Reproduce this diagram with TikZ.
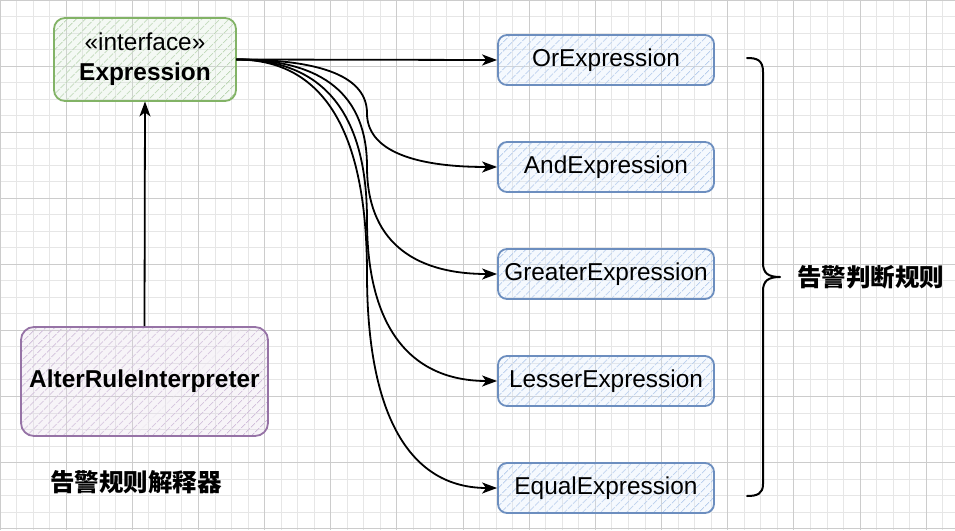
\documentclass[tikz,border=0pt]{standalone}
\usepackage{fontspec}
\setmainfont{Liberation Sans}
\newfontfamily\cjk{Noto Sans CJK SC}
\usetikzlibrary{calc,arrows.meta,patterns.meta}
\definecolor{gminor}{HTML}{E6E6E6}
\definecolor{gmajor}{HTML}{CCCCCC}
\definecolor{blueS}{HTML}{6C8EBF}
\definecolor{blueF}{HTML}{DAE8FC}
\definecolor{blueH}{HTML}{B4CBEC}
\definecolor{greenS}{HTML}{82B366}
\definecolor{greenF}{HTML}{D5E8D4}
\definecolor{greenH}{HTML}{B8D4B0}
\definecolor{purpS}{HTML}{9673A6}
\definecolor{purpF}{HTML}{E1D5E7}
\definecolor{purpH}{HTML}{CFBCD9}
\tikzset{
  basebox/.style={rounded corners=9pt, line width=1.8pt, inner sep=0pt, align=center,
    font=\fontsize{24.4}{30}\selectfont},
  exprbox/.style={basebox, draw=blueS, preaction={fill=blueF, fill opacity=0.25},
    pattern={Lines[angle=45,distance=6.5pt,line width=0.9pt]}, pattern color=blueH,
    minimum width=216pt, minimum height=50pt},
  ifbox/.style={basebox, draw=greenS, preaction={fill=greenF, fill opacity=0.25},
    pattern={Lines[angle=45,distance=6.5pt,line width=0.9pt]}, pattern color=greenH,
    minimum width=182pt, minimum height=83pt, rounded corners=11pt},
  interpbox/.style={basebox, draw=purpS, preaction={fill=purpF, fill opacity=0.25},
    pattern={Lines[angle=45,distance=6.5pt,line width=0.9pt]}, pattern color=purpH,
    minimum width=247pt, minimum height=109pt, rounded corners=13pt},
  edge/.style={line width=1.8pt, -{Stealth[length=15pt,width=11pt,inset=4pt]}},
  bracestroke/.style={line width=2pt, line cap=round, line join=round},
  cjklabel/.style={font=\cjk\bfseries\fontsize{24.5}{28}\selectfont, inner sep=0pt}
}
\begin{document}
\begin{tikzpicture}[x=1pt,y=-1pt]
\useasboundingbox (0,0) rectangle (955,530);
\fill[white] (0,0) rectangle (955,530);
% grid
\foreach \k in {0,...,58}{
  \pgfmathsetmacro\gx{\k*16.54}
  \draw[gminor, line width=1pt] (\gx,0) -- (\gx,530);
}
\foreach \k in {0,...,32}{
  \pgfmathsetmacro\gy{\k*16.52}
  \draw[gminor, line width=1pt] (0,\gy) -- (955,\gy);
}
\foreach \k in {0,...,14}{
  \pgfmathsetmacro\gx{\k*66.16}
  \draw[gmajor, line width=1pt] (\gx,0) -- (\gx,530);
}
\foreach \k in {0,...,8}{
  \pgfmathsetmacro\gy{\k*66.08}
  \draw[gmajor, line width=1pt] (0,\gy) -- (955,\gy);
}
% nodes
\node[ifbox] (expr) at (145,59.5) {\guillemotleft interface\guillemotright\\\textbf{Expression}};
\node[interpbox] (interp) at (144.5,381.5) {\textbf{AlterRuleInterpreter}};
\node[exprbox] (or)  at (606,60)  {OrExpression};
\node[exprbox] (and) at (606,167) {AndExpression};
\node[exprbox] (gre) at (606,274) {GreaterExpression};
\node[exprbox] (les) at (606,381) {LesserExpression};
\node[exprbox] (equ) at (606,488) {EqualExpression};
\node[cjklabel] (lbl1) at (136,482) {告警规则解释器};
\node[cjklabel] (lbl2) at (870.5,277) {告警判断规则};
% connectors
\draw[edge] (interp.north) -- (expr.south);
\draw[edge] (expr.east) -- (or.west);
\coordinate (vx) at (367,0);
\foreach \t in {and,gre,les,equ}{
  \coordinate (c1) at (vx |- expr.east);
  \coordinate (c2) at (vx |- \t.west);
  \coordinate (m) at ($(c1)!0.5!(c2)$);
  \draw[edge] (expr.east) .. controls ($(expr.east)!2/3!(c1)$) and ($(m)!2/3!(c1)$) .. (m)
     .. controls ($(m)!2/3!(c2)$) and ($(\t.west)!2/3!(c2)$) .. (\t.west);
}
% brace
\draw[bracestroke] (747,58) .. controls (757,58) and (763,60) .. (763,72) -- (763,263)
  .. controls (763,273) and (768,277) .. (780,277)
  .. controls (768,277) and (763,281) .. (763,291) -- (763,484)
  .. controls (763,494) and (757,496) .. (747,496);
\end{tikzpicture}
\end{document}
